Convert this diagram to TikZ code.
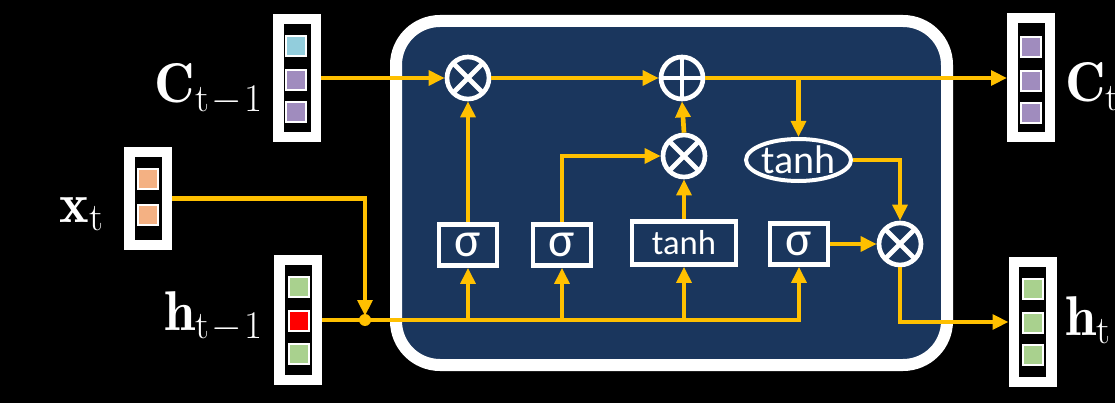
\RequirePackage{fix-cm}
\documentclass[tikz,border=0pt]{standalone}
\usepackage{fontspec}
\newfontfamily\gatefont{Carlito}
\usetikzlibrary{shapes.geometric,arrows.meta}
\definecolor{navy}{RGB}{26,54,93}
\definecolor{gold}{RGB}{255,192,0}
\definecolor{cblue}{RGB}{146,205,220}
\definecolor{cpurple}{RGB}{160,140,190}
\definecolor{corange}{RGB}{244,177,131}
\definecolor{cgreen}{RGB}{169,209,142}
\definecolor{cred}{RGB}{255,0,0}
\def\pxu{0.75pt}
\tikzset{
  conn/.style={draw=gold, line width=3.5pt, -{Triangle[length=12pt,width=11pt]}},
  vecout/.style={fill=white, draw=none, inner sep=0pt, outer sep=0pt, minimum width=48*\pxu},
  vecin/.style={fill=black, draw=none, inner sep=0pt, minimum width=27*\pxu},
  cellsq/.style={draw=white, line width=1.5pt, inner sep=0pt, minimum size=20*\pxu},
  gate/.style={draw=white, line width=3.5pt, fill=navy, text=white, inner sep=0pt,
    minimum width=58*\pxu, minimum height=41*\pxu, font=\gatefont\fontsize{37}{37}\selectfont},
  tanhgate/.style={gate, minimum width=104*\pxu, minimum height=43*\pxu, font=\gatefont\fontsize{26}{26}\selectfont},
  tanhell/.style={ellipse, draw=white, line width=3pt, fill=navy, text=white, inner sep=0pt,
    minimum width=105*\pxu, minimum height=42*\pxu, font=\gatefont\fontsize{30}{30}\selectfont},
  op/.style={circle, draw=white, line width=3.5pt, fill=navy, minimum size=42*\pxu, inner sep=0pt},
  timesop/.style={op, path picture={
    \draw[white, line width=3.5pt] (path picture bounding box.south west) -- (path picture bounding box.north east)
      (path picture bounding box.north west) -- (path picture bounding box.south east);}},
  plusop/.style={op, path picture={
    \draw[white, line width=3.5pt] (path picture bounding box.north) -- (path picture bounding box.south)
      (path picture bounding box.west) -- (path picture bounding box.east);}},
  lbl/.style={text=white, inner sep=0pt, font=\fontsize{42}{50}\selectfont},
}
\begin{document}
\begin{tikzpicture}[x=0.75pt, y=-0.75pt]
\useasboundingbox (0,0) rectangle (1115,403);
\fill[black] (0,0) rectangle (1115,403);

% main cell
\node[draw=white, line width=9pt, fill=navy, rounded corners=33pt, inner sep=0pt,
  minimum width=551*\pxu, minimum height=344*\pxu] (cellbox) at (671.5,193) {};

% input / output vectors
\node[vecout, minimum height=128*\pxu] (cprev) at (297,78) {};
\node[vecin, minimum height=108*\pxu] (cprevin) at (297,78) {};
\node[cellsq, fill=cblue] (cprev1) at (296,46) {};
\node[cellsq, fill=cpurple] (cprev2) at (296,80) {};
\node[cellsq, fill=cpurple] (cprev3) at (296,112) {};

\node[vecout, minimum height=103*\pxu] (xt) at (147.5,198.5) {};
\node[vecin, minimum height=83*\pxu] (xtin) at (148,198.5) {};
\node[cellsq, fill=corange] (xt1) at (148,179) {};
\node[cellsq, fill=corange] (xt2) at (148,215) {};

\node[vecout, minimum height=130*\pxu] (hprev) at (298,320) {};
\node[vecin, minimum height=110*\pxu] (hprevin) at (298.5,320) {};
\node[cellsq, fill=cgreen] (hprev1) at (298.5,287) {};
\node[cellsq, fill=cred] (hprev2) at (298.5,321) {};
\node[cellsq, fill=cgreen] (hprev3) at (298.5,354) {};

\node[vecout, minimum height=129*\pxu] (ct) at (1031,78) {};
\node[vecin, minimum height=109*\pxu] (ctin) at (1031,78) {};
\node[cellsq, fill=cpurple] (ct1) at (1031,47) {};
\node[cellsq, fill=cpurple] (ct2) at (1031,81) {};
\node[cellsq, fill=cpurple] (ct3) at (1031,113) {};

\node[vecout, minimum height=130*\pxu] (ht) at (1032.5,322) {};
\node[vecin, minimum height=110*\pxu] (htin) at (1032.5,322) {};
\node[cellsq, fill=cgreen] (ht1) at (1032.5,289) {};
\node[cellsq, fill=cgreen] (ht2) at (1032.5,323) {};
\node[cellsq, fill=cgreen] (ht3) at (1032.5,355) {};

% labels
\node[lbl, anchor=base east] (lcprev) at (263,103) {$\mathbf{C}_{\mathrm{t}\mkern1mu-\mkern1mu1}$};
\node[lbl, anchor=base east] (lxt) at (104,222) {$\mathbf{x}_{\mathrm{t}}$};
\node[lbl, anchor=base east] (lhprev) at (263,330) {$\mathbf{h}_{\mathrm{t}\mkern1mu-\mkern1mu1}$};
\node[lbl, anchor=base west] (lct) at (1065,102) {$\mathbf{C}_{\mathrm{t}}$};
\node[lbl, anchor=base west] (lht) at (1065,335) {$\mathbf{h}_{\mathrm{t}}$};

% gates
\node[gate] (g1) at (468,245) {σ};
\node[gate] (g2) at (562,245) {σ};
\node[tanhgate] (g3) at (684,243) {tanh};
\node[gate] (g4) at (799,244) {σ};
\node[tanhell] (te) at (798.5,160) {tanh};

% pointwise operators
\node[timesop] (m1) at (468,78) {};
\node[plusop] (pl) at (682,78) {};
\node[timesop] (m2) at (684,156) {};
\node[timesop] (m3) at (900,244) {};

% junction
\coordinate (J) at (365,320);
\coordinate (Jt) at (365,316);

% connectors
\draw[conn] (cprev.east) -- (m1.west);
\draw[conn] (m1.east) -- (pl.west);
\draw[conn] (pl.east) -- (ct.west);
\draw[conn] (te.north |- pl.east) -- (te.north);
\draw[conn] (g1.north) -- (m1.south);
\draw[conn] (g2.north) |- (m2.west);
\draw[conn] (g3.north) -- (m2.south);
\draw[conn] (m2.north) -- (pl.south);
\draw[conn] (te.east) -| (m3.north);
\draw[conn] (g4.east) -- (m3.west);
\draw[conn] (m3.south) |- (ht.west);
\draw[conn] (xt.east) -| (Jt);
\draw[conn] (hprev.east) -| (g4.south);
\draw[conn] (g1.south |- hprev.east) -- (g1.south);
\draw[conn] (g2.south |- hprev.east) -- (g2.south);
\draw[conn] (g3.south |- hprev.east) -- (g3.south);
\fill[gold] (J) circle (4.5pt);
\end{tikzpicture}
\end{document}
